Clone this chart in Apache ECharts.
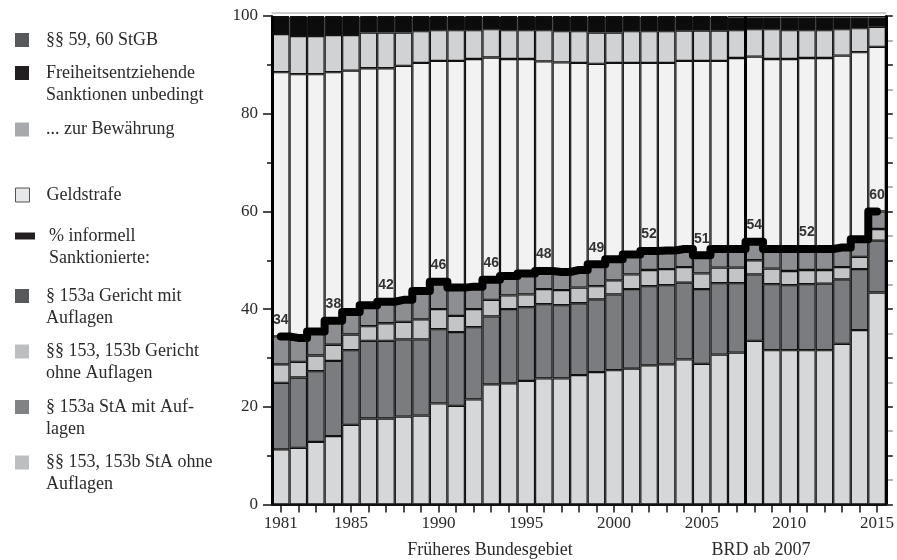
<!DOCTYPE html>
<html><head><meta charset="utf-8">
<script src="https://cdn.jsdelivr.net/npm/echarts@6/dist/echarts.min.js"></script>
<style>html,body{margin:0;padding:0;background:#fff}#c{width:897px;height:560px}</style>
</head><body><div id="c"></div>
<script>
const years = ['1981','1982','1983','1984','1985','1986','1987','1988','1989','1990','1991','1992','1993','1994','1995','1996','1997','1998','1999','2000','2001','2002','2003','2004','2005','2006','2007','2008','2009','2010','2011','2012','2013','2014','2015'];
const xLabelYears = ['1981','1985','1990','1995','2000','2005','2010','2015'];
const labeledYears = ['1981','1984','1987','1990','1993','1996','1999','2002','2005','2008','2011','2015'];
const splitYear = '2008';

// bottom to top
const staOhne = [11.3,11.6,12.8,14.0,16.3,17.6,17.6,18.0,18.2,20.7,20.2,21.5,24.6,24.8,25.3,25.8,25.8,26.5,27.1,27.5,27.8,28.5,28.7,29.7,28.8,30.7,31.1,33.5,31.6,31.6,31.6,31.6,32.9,35.7,43.4];
const staMit = [13.6,14.4,14.5,15.4,15.3,15.9,15.9,15.8,15.6,15.2,15.1,14.8,13.9,15.2,15.1,15.2,15.0,14.7,14.9,15.5,16.3,16.2,16.2,15.7,15.3,14.6,14.2,13.6,13.5,13.3,13.5,13.6,13.2,12.5,10.6];
const gerOhne = [3.8,3.2,3.2,3.3,3.2,3.0,3.6,3.6,4.1,4.1,3.3,3.7,3.4,2.8,2.6,3.1,3.1,3.2,2.7,2.9,3.0,3.3,3.3,3.2,3.2,3.2,3.2,2.9,3.2,2.9,2.9,2.8,2.5,2.5,2.4];
const gerMit = [5.7,4.9,4.9,4.9,4.6,4.3,4.4,4.5,5.8,5.6,5.8,4.6,4.1,4.0,4.3,3.7,3.7,3.6,4.5,4.3,4.1,3.9,3.8,3.7,3.7,3.8,3.8,3.8,4.0,4.5,4.3,4.3,4.0,3.6,3.6];
const geldstrafe = [54.1,54.0,52.7,50.9,49.4,48.5,47.8,47.9,46.7,45.2,46.4,46.6,45.5,44.4,43.9,42.9,42.9,42.4,41.0,40.2,39.2,38.5,38.4,38.5,39.8,38.5,39.1,37.9,38.9,38.9,39.1,39.1,39.3,38.3,33.7];
const bewaehrung = [7.8,7.8,7.8,7.6,7.3,7.3,7.3,6.8,6.5,6.3,6.3,5.9,5.8,5.9,5.9,6.4,6.4,6.5,6.4,6.2,6.5,6.5,6.5,6.2,6.2,6.2,5.7,5.6,6.1,5.9,5.7,5.7,5.4,4.9,4.1];
const unbedingt = [3.5,3.9,3.9,3.7,3.7,3.2,3.2,3.2,2.9,2.7,2.7,2.7,2.5,2.7,2.7,2.7,2.9,2.9,3.2,3.2,2.9,2.9,2.9,2.8,2.8,2.8,2.6,2.4,2.4,2.6,2.6,2.6,2.4,2.2,1.9];
const p5960 = [0.2,0.2,0.2,0.2,0.2,0.2,0.2,0.2,0.2,0.2,0.2,0.2,0.2,0.2,0.2,0.2,0.2,0.2,0.2,0.2,0.2,0.2,0.2,0.2,0.2,0.2,0.3,0.3,0.3,0.3,0.3,0.3,0.3,0.3,0.3];
const informell = [34.4,34.1,35.4,37.6,39.4,40.8,41.5,41.9,43.7,45.6,44.4,44.6,46.0,46.8,47.3,47.8,47.6,48.0,49.2,50.2,51.2,51.9,52.0,52.3,51.0,52.3,52.3,53.8,52.3,52.3,52.3,52.3,52.6,54.3,60.0];

const serif = '"Liberation Serif", "Times New Roman", serif';
const txt = '#2a2a2a';

const N = {
  p: '§§ 59, 60 StGB',
  u: 'Freiheitsentziehende Sanktionen unbedingt',
  b: '... zur Bewährung',
  g: 'Geldstrafe',
  i: '% informell Sanktionierte:',
  gm: '§ 153a Gericht mit Auflagen',
  go: '§§ 153, 153b Gericht ohne Auflagen',
  sm: '§ 153a StA mit Auflagen',
  so: '§§ 153, 153b StA ohne Auflagen'
};

const SQ = 'path://M0,0h14v14h-14z';
const WIDE = 'path://M0,0h20v7h-20z';

function legend(name, lines, top, color, icon, extra) {
  const text = lines.length > 1 ? '\n' + lines.join('\n') : lines[0];
  return {
    data: [{name: name, icon: icon || SQ, itemStyle: Object.assign({color: color, borderWidth: 0}, extra || {})}],
    formatter: () => text,
    orient: 'vertical', left: 15, top: top, padding: 0,
    itemWidth: 20, itemHeight: 14, selectedMode: false,
    textStyle: {fontFamily: serif, fontSize: 18, color: txt, lineHeight: 22, padding: [0, 0, 0, 9]}
  };
}

function bar(name, data, color) {
  return {
    type: 'bar', name: name, data: data, stack: 'all', barCategoryGap: '0%',
    itemStyle: {color: color, borderColor: '#111', borderWidth: 1.15},
    emphasis: {disabled: true}, z: 2
  };
}

const chart = echarts.init(document.getElementById('c'), null, {renderer: 'canvas'});
chart.setOption({
  animation: false,
  backgroundColor: '#fff',
  grid: {left: 272, right: 8, top: 16, bottom: 55.5, containLabel: false},
  legend: [
    legend(N.p, ['§§ 59, 60 StGB'], 29, '#58595b'),
    legend(N.u, ['Freiheitsentziehende', 'Sanktionen unbedingt'], 40, '#231f20'),
    legend(N.b, ['... zur Bewährung'], 118.5, '#a7a9ac'),
    legend(N.g, ['Geldstrafe'], 184, '#e6e7e8', null, {borderWidth: 1, borderColor: '#555'}),
    legend(N.i, ['% informell', 'Sanktionierte:'], 203, '#231f20', WIDE),
    legend(N.gm, ['§ 153a Gericht mit', 'Auflagen'], 263, '#58595b'),
    legend(N.go, ['§§ 153, 153b Gericht', 'ohne Auflagen'], 318.5, '#bcbec0'),
    legend(N.sm, ['§ 153a StA mit Auf-', 'lagen'], 374, '#808285'),
    legend(N.so, ['§§ 153, 153b StA ohne', 'Auflagen'], 429.5, '#bcbec0')
  ],
  xAxis: [{
    type: 'category', data: years, position: 'bottom', z: 5,
    axisLine: {lineStyle: {color: '#111', width: 2}},
    axisTick: {show: true, interval: 0, alignWithLabel: true, length: 8, lineStyle: {color: '#111', width: 1.5}},
    axisLabel: {interval: (i, v) => xLabelYears.includes(v), margin: 11, fontFamily: serif, fontSize: 17, color: txt},
    splitLine: {show: true, interval: (i, v) => v === years[0] || v === splitYear, lineStyle: {color: '#000', width: 3}}
  }, {
    type: 'category', data: years, position: 'top', offset: 3,
    axisLine: {onZero: false, lineStyle: {color: '#bbb', width: 1.5}},
    axisTick: {show: false}, axisLabel: {show: false}, splitLine: {show: false}
  }],
  yAxis: [{
    type: 'value', min: 0, max: 100, interval: 20, position: 'left',
    axisLine: {show: true, lineStyle: {color: '#111', width: 2}},
    axisTick: {show: true, length: 9, lineStyle: {color: '#111', width: 1.5}},
    minorTick: {show: true, splitNumber: 2, length: 5, lineStyle: {color: '#111', width: 1.5}},
    splitLine: {show: false},
    axisLabel: {margin: 14, fontFamily: serif, fontSize: 17, color: txt}
  }, {
    type: 'value', min: 0, max: 100, interval: 10, position: 'right',
    axisLine: {show: true, lineStyle: {color: '#111', width: 2}},
    axisTick: {show: true, length: 7, lineStyle: {color: '#111', width: 1.5}},
    minorTick: {show: true, splitNumber: 2, length: 7, lineStyle: {color: '#999', width: 1.5}},
    splitLine: {show: false}, axisLabel: {show: false}
  }],
  series: [
    bar(N.so, staOhne, '#d6d7d9'),
    bar(N.sm, staMit, '#7b7c80'),
    bar(N.go, gerOhne, '#c3c4c6'),
    bar(N.gm, gerMit, '#8d8e92'),
    bar(N.g, geldstrafe, '#f1f2f1'),
    bar(N.b, bewaehrung, '#d1d2d4'),
    bar(N.u, unbedingt, '#0c0c0c'),
    bar(N.p, p5960, '#1a1a1a'),
    {
      type: 'line', name: N.i, data: informell, step: 'middle',
      symbol: 'circle', symbolSize: 1, showSymbol: true,
      lineStyle: {color: '#000', width: 8, join: 'round', cap: 'round'},
      itemStyle: {color: '#000'},
      label: {
        show: true, position: 'top', distance: 9,
        formatter: p => labeledYears.includes(p.name) ? String(Math.round(p.value)) : '',
        fontFamily: '"Liberation Sans", Arial, sans-serif', fontWeight: 'bold', fontSize: 14, color: '#333'
      },
      emphasis: {disabled: true}, z: 4
    }
  ],
  graphic: [
    {type: 'text', x: 490, y: 550, style: {text: 'Früheres Bundesgebiet', font: '18px ' + serif, fill: txt, align: 'center', verticalAlign: 'middle'}},
    {type: 'text', x: 761, y: 550, style: {text: 'BRD ab 2007', font: '18px ' + serif, fill: txt, align: 'center', verticalAlign: 'middle'}}
  ]
});
</script></body></html>
